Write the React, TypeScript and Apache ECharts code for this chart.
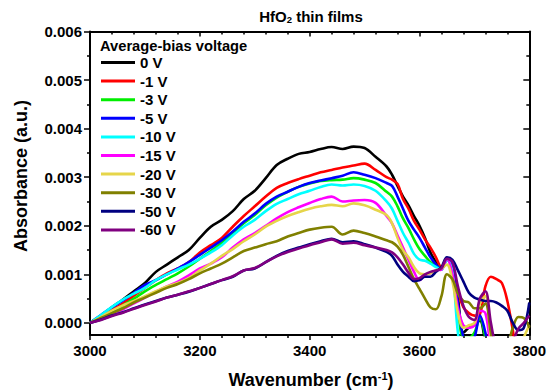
import React, { useEffect, useRef } from "react";
import * as echarts from "echarts";

// Wavenumber grid (cm^-1)
const wavenumbers = [
  3000, 3020, 3040, 3060, 3080, 3100, 3120, 3140, 3160, 3180, 3200, 3220, 3240, 3260,
  3280, 3300, 3320, 3340, 3360, 3380, 3400, 3420, 3440, 3460, 3480, 3500, 3520, 3540,
  3550, 3560, 3570, 3580, 3590, 3600, 3610, 3620, 3630, 3640, 3650, 3660, 3670, 3680,
  3690, 3700, 3710, 3720, 3730, 3740, 3750, 3760, 3770, 3780, 3790, 3800,
];

// Absorbance values in units of 1e-3 a.u.
const v0 = [
  0, 0.15, 0.32, 0.48, 0.65, 0.82, 1.05, 1.2, 1.35, 1.5, 1.75, 1.98, 2.12, 2.3,
  2.55, 2.72, 2.98, 3.25, 3.38, 3.48, 3.52, 3.58, 3.62, 3.58, 3.63, 3.6, 3.42, 3.22,
  3.05, 2.82, 2.6, 2.42, 2.2, 2.0, 1.75, 1.45, 1.25, 1.12, 1.32, 1.15, 0.5, -0.2,
  -0.1, -0.05, 0.05, -0.4, -0.8, -0.8, -0.8, -0.8, -0.8, -0.8, -0.8, -0.8,
];
const v1 = [
  0, 0.12, 0.26, 0.4, 0.56, 0.72, 0.88, 1.02, 1.12, 1.25, 1.45, 1.6, 1.75, 1.98,
  2.2, 2.4, 2.6, 2.78, 2.88, 2.96, 3.03, 3.1, 3.15, 3.2, 3.24, 3.28, 3.15, 3.0,
  2.95, 2.86, 2.55, 2.35, 2.1, 1.92, 1.72, 1.55, 1.35, 1.15, 1.3, 1.2, 0.65, 0.32,
  0.2, 0.15, 0.18, 0.75, 0.95, 0.9, 0.82, 0.45, -0.15, -0.8, -0.8, -0.8,
];
const v3 = [
  0, 0.1, 0.22, 0.36, 0.5, 0.65, 0.78, 0.9, 1.02, 1.16, 1.32, 1.48, 1.65, 1.85,
  2.05, 2.22, 2.42, 2.58, 2.7, 2.8, 2.87, 2.92, 2.94, 2.95, 2.98, 2.95, 2.88, 2.7,
  2.6, 2.4, 2.15, 1.95, 1.72, 1.52, 1.38, 1.25, 1.18, 1.12, 1.3, 1.15, 0.3, -0.3,
  -0.3, -0.2, 0.1, -0.3, -0.8, -0.8, -0.8, -0.8, -0.8, -0.8, -0.8, -0.8,
];
const v5 = [
  0, 0.16, 0.32, 0.46, 0.62, 0.78, 0.88, 1.0, 1.12, 1.25, 1.4, 1.55, 1.7, 1.88,
  2.08, 2.25, 2.45, 2.6, 2.7, 2.8, 2.88, 2.93, 2.98, 3.03, 3.1, 3.05, 2.98, 2.88,
  2.82, 2.6, 2.35, 2.1, 1.92, 1.75, 1.55, 1.35, 1.2, 1.1, 1.3, 1.2, 0.4, -0.3,
  -0.4, -0.3, 0.15, -0.2, -0.8, -0.8, -0.8, -0.8, -0.8, -0.8, -0.8, -0.8,
];
const v10 = [
  0, 0.16, 0.33, 0.48, 0.6, 0.72, 0.88, 1.0, 1.1, 1.2, 1.32, 1.45, 1.6, 1.8,
  1.98, 2.12, 2.3, 2.45, 2.55, 2.65, 2.72, 2.8, 2.85, 2.83, 2.85, 2.82, 2.72, 2.5,
  2.35, 2.1, 1.85, 1.65, 1.42, 1.3, 1.28, 1.22, 1.15, 1.1, 1.3, 1.05, -0.2, -0.8,
  -0.8, -0.8, -0.8, -0.8, -0.8, -0.8, -0.8, -0.8, -0.8, -0.8, -0.8, -0.8,
];
const v15 = [
  0, 0.08, 0.18, 0.28, 0.4, 0.52, 0.64, 0.75, 0.85, 0.98, 1.12, 1.22, 1.35, 1.55,
  1.72, 1.85, 2.0, 2.15, 2.28, 2.38, 2.47, 2.55, 2.6, 2.5, 2.52, 2.53, 2.47, 2.2,
  2.05, 1.8, 1.55, 1.3, 1.05, 0.88, 0.98, 1.02, 1.08, 1.1, 1.32, 1.0, 0.3, -0.05,
  -0.1, -0.05, 0.25, 0.2, -0.5, -0.8, -0.8, -0.8, -0.8, -0.8, -0.8, -0.8,
];
const v20 = [
  0, 0.12, 0.25, 0.36, 0.45, 0.55, 0.65, 0.75, 0.82, 0.92, 1.08, 1.22, 1.38, 1.52,
  1.68, 1.82, 1.98, 2.1, 2.2, 2.28, 2.35, 2.4, 2.43, 2.4, 2.46, 2.42, 2.33, 2.22,
  2.05, 1.75, 1.5, 1.35, 1.15, 1.02, 1.0, 1.02, 1.08, 1.12, 1.2, 0.85, 0.2, -0.1,
  -0.05, 0.0, 0.4, 0.55, -0.3, -0.8, -0.8, -0.8, -0.8, -0.6, -0.3, -0.05,
];
const v30 = [
  0, 0.1, 0.2, 0.3, 0.42, 0.52, 0.62, 0.72, 0.8, 0.9, 1.02, 1.12, 1.22, 1.35,
  1.48, 1.55, 1.62, 1.68, 1.78, 1.85, 1.92, 1.96, 1.98, 1.82, 1.9, 1.85, 1.78, 1.7,
  1.66, 1.57, 1.4, 1.15, 0.9, 0.7, 0.5, 0.32, 0.28, 0.55, 1.0, 0.9, 0.6, 0.45,
  0.42, 0.3, 0.3, 0.4, -0.2, -0.7, -0.7, -0.5, -0.1, 0.12, 0.1, -0.1,
];
const v50 = [
  0, 0.07, 0.15, 0.22, 0.3, 0.38, 0.45, 0.52, 0.58, 0.64, 0.72, 0.8, 0.88, 0.95,
  1.08, 1.12, 1.25, 1.38, 1.48, 1.55, 1.62, 1.68, 1.73, 1.66, 1.68, 1.62, 1.55, 1.46,
  1.38, 1.2, 1.05, 0.95, 0.86, 0.88, 0.95, 0.95, 1.05, 1.15, 1.35, 1.3, 1.08, 0.85,
  0.62, 0.52, 0.48, 0.45, 0.45, 0.42, 0.35, 0.25, 0.0, -0.15, -0.1, 0.42,
];
const v60 = [
  0, 0.06, 0.14, 0.21, 0.29, 0.37, 0.44, 0.52, 0.58, 0.65, 0.72, 0.8, 0.88, 0.96,
  1.08, 1.13, 1.25, 1.37, 1.46, 1.53, 1.6, 1.66, 1.72, 1.63, 1.65, 1.6, 1.55, 1.5,
  1.45, 1.35, 1.2, 1.03, 0.9, 0.92, 1.0, 1.05, 1.08, 1.12, 1.32, 1.25, 0.75, 0.35,
  0.12, 0.06, 0.5, 0.65, 0.0, -0.5, -0.6, -0.6, -0.4, -0.12, 0.0, 0.15,
];

const seriesNames = ["0 V", "-1 V", "-3 V", "-5 V", "-10 V", "-15 V", "-20 V", "-30 V", "-50 V", "-60 V"];
const seriesValues = [v0, v1, v3, v5, v10, v15, v20, v30, v50, v60];
const seriesColors = [
  "#000000", "#ff0000", "#00ee00", "#0000ff", "#00ffff",
  "#ff00ff", "#e6d54a", "#808000", "#000080", "#800080",
];

const majorTicks = [0, 1, 2, 3, 4, 5, 6];
const minorTicks = [0.5, 1.5, 2.5, 3.5, 4.5, 5.5];

const FONT = "'Liberation Sans', Arial, Helvetica, sans-serif";

export default function App() {
  const ref = useRef<HTMLDivElement>(null);

  useEffect(() => {
    document.body.style.margin = "0";
    if (!ref.current) return;
    const chart = echarts.init(ref.current, undefined, { renderer: "svg" });

    const axisLineStyle = { color: "#000", width: 2 };
    const tickStyle = { width: 1.5, color: "#000" };
    const yCommon = {
      type: "value",
      min: -0.25,
      max: 6,
      splitLine: { show: false },
      axisLine: { show: false, onZero: false },
    };

    const option: any = {
      animation: false,
      backgroundColor: "#fff",
      grid: { left: 90, right: 16.5, top: 31.5, bottom: 56, containLabel: false },
      legend: {
        orient: "vertical",
        left: 101,
        top: 55,
        padding: 0,
        itemGap: 3.6,
        itemWidth: 34,
        itemHeight: 3,
        icon: "rect",
        data: seriesNames,
        textStyle: {
          fontFamily: FONT,
          fontSize: 15,
          fontWeight: "bold",
          color: "#000",
          lineHeight: 15,
        },
      },
      xAxis: [
        {
          type: "value",
          position: "bottom",
          min: 3000,
          max: 3800,
          interval: 200,
          splitLine: { show: false },
          axisLine: { onZero: false, lineStyle: axisLineStyle },
          axisTick: { inside: false, length: 5, lineStyle: tickStyle },
          minorTick: { show: true, splitNumber: 5, length: 3, lineStyle: tickStyle },
          axisLabel: {
            margin: 8,
            formatter: (v: number) => String(v),
            fontFamily: FONT,
            fontSize: 15,
            fontWeight: "bold",
            color: "#000",
          },
        },
        {
          type: "value",
          position: "top",
          min: 3000,
          max: 3800,
          interval: 200,
          splitLine: { show: false },
          axisLine: { onZero: false, lineStyle: axisLineStyle },
          axisTick: { inside: true, length: 5, lineStyle: tickStyle },
          minorTick: { show: true, splitNumber: 5, length: 3, lineStyle: tickStyle },
          axisLabel: { show: false },
        },
      ],
      yAxis: [
        {
          ...yCommon,
          position: "left",
          axisLine: { show: true, onZero: false, lineStyle: axisLineStyle },
          axisTick: { show: true, inside: false, length: 6, customValues: majorTicks, lineStyle: tickStyle },
          axisLabel: {
            show: true,
            customValues: majorTicks,
            margin: 8,
            formatter: (v: number) => (v / 1000).toFixed(3),
            fontFamily: FONT,
            fontSize: 15,
            fontWeight: "bold",
            color: "#000",
          },
        },
        {
          ...yCommon,
          position: "left",
          axisTick: { show: true, inside: false, length: 3, customValues: minorTicks, lineStyle: tickStyle },
          axisLabel: { show: false },
        },
        {
          ...yCommon,
          position: "right",
          axisLine: { show: true, onZero: false, lineStyle: axisLineStyle },
          axisTick: { show: true, inside: true, length: 6, customValues: majorTicks, lineStyle: tickStyle },
          axisLabel: { show: false },
        },
        {
          ...yCommon,
          position: "right",
          axisTick: { show: true, inside: true, length: 3, customValues: minorTicks, lineStyle: tickStyle },
          axisLabel: { show: false },
        },
      ],
      series: seriesNames.map((name, k) => ({
        name,
        type: "line",
        xAxisIndex: 0,
        yAxisIndex: 0,
        data: wavenumbers.map((w, i) => [w, seriesValues[k][i]]),
        showSymbol: false,
        symbol: "none",
        smooth: 0.35,
        clip: true,
        color: seriesColors[k],
        lineStyle: { width: 2.6, color: seriesColors[k] },
      })),
      graphic: [
        {
          type: "text",
          x: 311,
          y: 16,
          style: {
            text: "HfO{sub|2} thin films",
            fontFamily: FONT,
            fontSize: 15,
            fontWeight: "bold",
            fill: "#000",
            align: "center",
            verticalAlign: "middle",
            lineHeight: 16,
            rich: {
              sub: {
                fontFamily: FONT,
                fontSize: 9.5,
                fontWeight: "bold",
                fill: "#000",
                lineHeight: 8,
                verticalAlign: "bottom",
              },
            },
          },
        },
        {
          type: "text",
          x: 100,
          y: 46,
          style: {
            text: "Average-bias voltage",
            fontFamily: FONT,
            fontSize: 14.7,
            fontWeight: "bold",
            fill: "#000",
            align: "left",
            verticalAlign: "middle",
          },
        },
        {
          type: "text",
          x: 21,
          y: 176,
          rotation: Math.PI / 2,
          style: {
            text: "Absorbance (a.u.)",
            fontFamily: FONT,
            fontSize: 18,
            fontWeight: "bold",
            fill: "#000",
            align: "center",
            verticalAlign: "middle",
          },
        },
        {
          type: "text",
          x: 311,
          y: 380,
          style: {
            text: "Wavenumber (cm{sup|-1})",
            fontFamily: FONT,
            fontSize: 18,
            fontWeight: "bold",
            fill: "#000",
            align: "center",
            verticalAlign: "middle",
            lineHeight: 20,
            rich: {
              sup: {
                fontFamily: FONT,
                fontSize: 11,
                fontWeight: "bold",
                fill: "#000",
                lineHeight: 8,
                verticalAlign: "top",
              },
            },
          },
        },
      ],
    };

    chart.setOption(option);
    return () => chart.dispose();
  }, []);

  return <div ref={ref} style={{ width: 549, height: 391 }} />;
}
